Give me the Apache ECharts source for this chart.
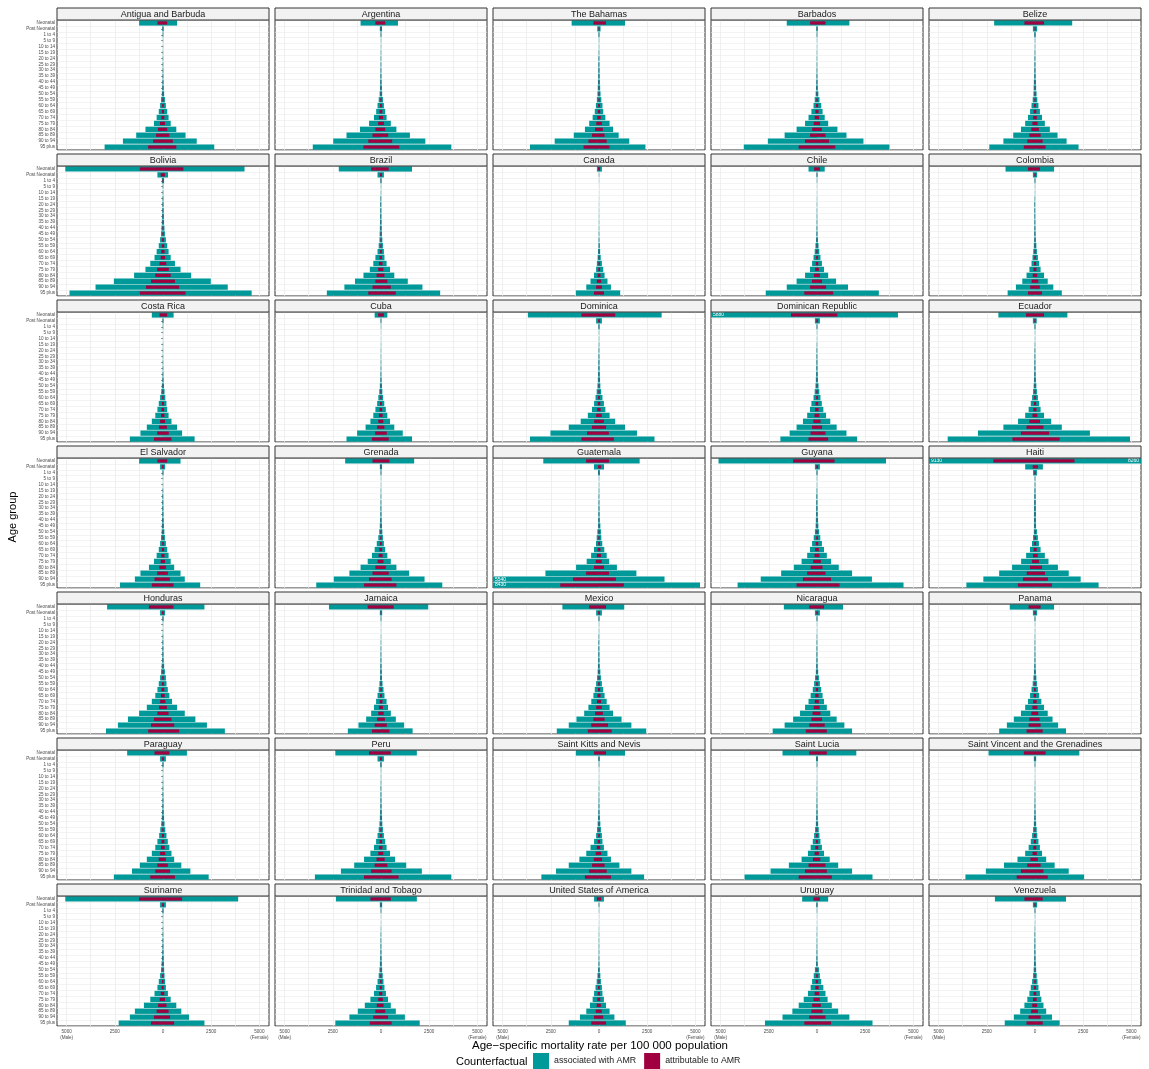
<!DOCTYPE html>
<html><head><meta charset="utf-8">
<script src="https://cdn.jsdelivr.net/npm/echarts@6/dist/echarts.min.js"></script>
<style>html,body{margin:0;padding:0;background:#fff}#c{width:1149px;height:1069px}</style>
</head><body><div id="c"></div>
<script>
const ageGroups = ["Neonatal","Post Neonatal","1 to 4","5 to 9","10 to 14","15 to 19","20 to 24","25 to 29","30 to 34","35 to 39","40 to 44","45 to 49","50 to 54","55 to 59","60 to 64","65 to 69","70 to 74","75 to 79","80 to 84","85 to 89","90 to 94","95 plus"];
const countries = ["Antigua and Barbuda","Argentina","The Bahamas","Barbados","Belize","Bolivia","Brazil","Canada","Chile","Colombia","Costa Rica","Cuba","Dominica","Dominican Republic","Ecuador","El Salvador","Grenada","Guatemala","Guyana","Haiti","Honduras","Jamaica","Mexico","Nicaragua","Panama","Paraguay","Peru","Saint Kitts and Nevis","Saint Lucia","Saint Vincent and the Grenadines","Suriname","Trinidad and Tobago","United States of America","Uruguay","Venezuela"];
const xTickValues = [-5000,-2500,0,2500,5000];
const xGridValues = [-5000,-3750,-2500,-1250,0,1250,2500,3750,5000];

const maleAssociated = [
[1240,40,20,8,8,12,15,18,22,28,35,45,60,100,150,220,330,470,910,1390,2080,3030],
[1060,60,25,10,10,15,20,22,28,35,45,55,70,120,180,250,365,620,1090,1790,2480,3540],
[1420,90,30,10,10,18,30,35,40,45,55,65,80,110,160,220,330,510,730,1310,2300,3580],
[1570,40,20,8,8,12,15,18,22,30,40,50,70,120,180,290,440,620,1060,1680,2550,3800],
[2120,110,40,12,12,20,28,32,38,45,60,70,80,120,180,255,365,510,730,1130,1640,2370],
[5070,290,60,15,15,25,35,40,50,60,80,100,150,220,330,440,660,910,1500,2550,3500,4850],
[2190,180,35,10,12,30,40,40,45,50,60,70,80,120,180,290,400,580,910,1350,1900,2810],
[110,10,5,2,2,4,6,7,8,10,12,16,22,30,50,70,110,150,260,440,660,1200],
[440,30,12,5,5,8,12,14,16,20,25,35,50,80,120,180,255,365,620,1060,1570,2660],
[1530,110,25,8,8,20,35,35,35,35,38,42,45,60,90,130,180,290,440,660,990,1420],
[580,30,12,5,5,10,14,15,17,20,28,38,60,90,150,220,290,400,580,840,1170,1720],
[330,25,10,5,5,8,12,14,16,20,28,38,60,90,140,200,290,400,550,800,1240,1790],
[3690,150,35,10,10,15,22,28,34,40,50,60,80,120,180,255,365,580,950,1570,2520,3580],
[5880,110,25,8,8,15,25,28,32,38,48,60,80,120,180,290,365,510,730,1060,1420,1900],
[1900,110,30,8,8,15,25,28,32,38,45,55,70,100,150,220,330,510,880,1640,2960,4530],
[1240,150,30,8,10,22,35,38,40,42,50,60,70,100,150,220,330,470,730,1170,1460,2230],
[1860,60,25,8,8,14,20,24,30,36,48,62,90,140,220,330,470,690,1060,1640,2450,3360],
[2890,260,50,10,10,15,22,26,30,36,44,50,85,120,155,260,410,640,1190,2780,5540,8430],
[5110,110,30,10,10,20,35,40,45,50,60,70,110,170,255,365,510,800,1200,1860,2920,4120],
[9130,510,100,20,20,30,40,45,50,55,55,55,60,100,155,260,460,720,1190,1860,2680,3560],
[2900,150,35,10,10,20,30,35,40,45,70,100,150,220,290,400,580,840,1240,1820,2340,2960],
[2700,60,20,6,6,10,16,20,25,30,38,45,50,80,120,180,255,365,510,770,1170,1720],
[1900,150,30,8,10,20,30,35,40,45,55,70,100,150,220,290,400,550,770,1170,1570,2190],
[1720,110,28,8,8,15,22,26,30,35,45,60,100,150,220,330,440,620,880,1240,1680,2300],
[1310,110,25,8,8,14,20,22,26,30,40,55,80,120,180,255,365,510,730,1100,1460,1860],
[1860,150,35,10,10,16,24,28,32,38,48,62,90,140,200,290,400,580,840,1200,1610,2550],
[2370,180,40,10,10,16,24,28,32,38,48,60,80,120,180,255,365,550,880,1390,2080,3430],
[1200,40,15,6,6,10,15,18,22,28,38,50,70,100,150,255,440,660,1020,1570,2230,2990],
[1790,50,20,6,6,10,15,18,22,28,36,45,60,100,150,220,330,470,800,1460,2410,3760],
[2410,60,20,6,6,10,15,18,22,28,36,45,60,100,150,220,330,510,910,1610,2550,3610],
[5070,150,35,10,10,16,24,28,34,40,55,75,100,150,220,290,440,660,990,1460,1720,2300],
[2340,60,20,6,6,12,20,24,28,34,44,58,80,120,180,255,365,550,840,1200,1640,2370],
[255,20,8,4,4,8,12,14,16,18,22,30,50,80,120,180,255,330,470,660,990,1570],
[770,40,12,5,5,10,14,16,20,26,36,50,110,170,255,330,470,690,950,1280,1790,2700],
[2080,110,25,8,8,16,26,30,34,38,45,55,70,100,150,220,290,400,550,770,1100,1570]
];
const femaleAssociated = [
[730,35,18,6,6,8,10,12,15,20,28,38,60,100,150,220,290,400,690,1170,1750,2660],
[880,55,22,8,8,10,12,14,18,24,32,45,60,100,150,220,290,510,800,1500,2300,3650],
[1350,80,25,8,8,12,18,22,28,35,45,60,80,120,180,220,330,550,730,1020,1570,2410],
[1680,40,18,6,6,8,10,12,16,22,30,42,70,130,220,290,400,580,1060,1530,2410,3760],
[1930,110,35,10,10,14,18,22,28,35,50,60,80,120,180,255,365,510,770,1170,1640,2260],
[4230,260,55,12,12,20,28,35,45,55,75,100,150,220,290,400,620,910,1460,2480,3360,4600],
[1610,150,30,8,8,12,15,18,22,28,38,50,70,100,150,180,290,470,690,1390,2150,3070],
[150,9,4,2,2,3,4,5,6,8,10,14,20,40,60,90,150,220,290,440,620,1100],
[400,28,10,4,4,6,8,9,11,14,18,26,50,80,120,180,255,365,580,990,1610,3210],
[990,110,22,6,6,8,10,12,14,18,24,32,45,70,100,150,220,290,470,660,950,1390],
[550,28,10,4,4,6,7,8,10,14,20,30,50,80,120,180,220,290,440,730,990,1640],
[330,22,8,4,4,6,8,9,11,14,20,30,50,70,110,170,250,330,470,690,1130,1610],
[3250,150,30,8,8,12,16,20,26,32,42,55,70,110,180,255,330,550,840,1350,1970,2880],
[4200,150,22,6,6,10,14,18,22,28,38,50,80,120,180,250,330,470,690,1020,1530,2080],
[1680,90,25,6,6,10,14,18,22,28,36,48,70,100,150,220,290,470,840,1390,2850,4930],
[910,110,25,6,6,10,14,18,22,28,36,48,70,100,150,220,290,400,580,910,1130,1930],
[1720,55,22,6,6,9,12,15,20,26,36,50,70,100,150,220,330,510,800,1460,2260,3180],
[2110,260,45,8,8,12,16,20,25,32,42,70,100,120,170,275,400,530,930,1940,3400,5240],
[3580,150,28,8,8,14,20,25,32,40,55,70,110,170,255,365,510,730,1130,1820,2850,4490],
[8260,410,100,18,18,25,35,40,45,50,50,55,100,150,205,290,510,700,1190,1750,2370,3300],
[2150,110,30,8,8,12,18,22,28,35,60,100,150,180,250,330,470,730,1130,1680,2280,3210],
[2450,60,18,5,5,8,10,13,17,22,30,40,50,80,130,180,290,365,510,770,1200,1640],
[1310,150,25,6,6,10,14,18,22,28,38,70,100,150,220,290,400,550,730,1170,1680,2450],
[1350,150,25,6,6,10,14,18,22,28,38,60,100,150,220,290,365,510,690,1020,1420,1820],
[990,110,22,6,6,9,12,15,19,24,32,45,70,100,150,220,330,470,660,910,1200,1610],
[1240,150,30,8,8,12,16,20,25,30,40,55,80,120,180,250,330,440,580,950,1420,2370],
[1860,150,35,8,8,12,16,20,25,30,40,55,70,100,150,220,290,470,730,1310,2120,3650],
[1350,40,15,5,5,8,10,12,16,22,30,45,70,100,150,180,255,440,620,1060,1680,2340],
[2040,50,18,5,5,8,10,12,16,22,30,40,60,90,130,180,255,365,660,1100,1820,2880],
[2300,60,18,5,5,8,10,12,16,22,30,40,60,90,120,180,255,365,580,1020,1750,2550],
[3900,150,30,8,8,12,16,20,25,30,40,50,60,80,110,150,255,400,690,950,1350,2150],
[1860,60,18,5,5,8,11,14,18,24,32,44,60,90,130,180,255,365,510,770,1240,2010],
[255,18,7,3,3,5,7,8,10,12,16,24,40,70,100,150,180,255,365,550,800,1390],
[580,35,10,4,4,6,8,10,13,18,26,40,100,150,220,330,440,550,770,1100,1680,2880],
[1610,110,22,6,6,9,12,15,19,24,32,44,60,90,130,180,255,330,440,580,880,1280]
];
const maleAttributable = [
[290,12,6,2,2,3,4,5,6,8,10,14,18,30,45,60,86,155,260,360,510,770],
[290,20,8,3,3,4,5,6,7,9,12,15,20,35,50,70,110,150,290,440,660,910],
[290,25,8,3,3,5,8,9,10,12,15,18,22,30,45,60,90,140,200,360,550,800],
[360,12,6,2,2,3,4,5,6,8,11,14,20,33,50,80,120,170,250,360,620,950],
[550,30,10,3,3,5,7,8,10,12,16,19,22,32,48,68,95,135,190,290,400,580],
[1200,120,25,5,5,8,10,12,15,18,25,30,45,60,90,120,180,300,400,620,880,1200],
[510,60,12,3,3,8,10,10,12,14,16,19,22,32,48,75,105,150,230,290,440,660],
[50,4,2,1,1,1,2,2,2,3,3,4,6,8,13,18,28,40,70,110,150,260],
[150,10,4,2,2,2,3,4,4,5,7,9,13,20,30,45,65,95,160,260,360,660],
[365,35,8,2,2,5,9,9,9,9,10,11,12,16,24,34,48,75,115,170,250,365],
[180,10,4,2,2,3,4,4,5,5,7,10,15,23,38,55,75,100,150,200,300,470],
[150,8,3,2,2,2,3,4,4,5,7,10,15,23,35,50,75,100,140,200,300,470],
[910,45,10,3,3,4,6,7,9,10,13,15,20,30,45,65,95,150,250,365,620,910],
[1350,35,8,2,2,4,7,8,9,10,12,15,20,30,45,75,95,130,190,260,330,440],
[470,35,9,2,2,4,7,8,9,10,12,14,18,26,38,57,85,130,290,440,730,1170],
[290,50,10,2,3,6,9,10,10,11,13,15,18,26,40,57,85,120,190,300,440,580],
[440,18,8,2,2,4,5,6,8,9,12,16,23,36,57,85,120,175,290,440,620,880],
[670,50,15,3,3,4,6,7,8,10,12,14,22,32,42,70,110,165,260,670,1340,2010],
[1240,35,9,3,3,5,9,10,12,13,15,18,28,44,66,95,130,200,330,510,730,1060],
[2160,120,30,5,5,8,10,12,13,14,14,14,16,26,40,70,100,150,260,430,620,890],
[730,50,12,3,3,5,8,9,10,12,18,26,40,58,76,105,150,200,290,470,620,770],
[690,18,6,2,2,3,4,5,7,8,10,12,14,22,32,48,68,100,140,200,330,470],
[510,45,9,2,3,5,8,9,10,12,15,19,27,40,58,78,105,145,200,290,400,580],
[400,35,8,2,2,4,6,7,8,9,12,16,26,40,58,88,115,165,230,290,400,580],
[330,35,8,2,2,4,5,6,7,8,10,14,21,32,48,68,95,135,190,290,330,440],
[440,45,10,3,3,4,6,7,8,10,12,16,24,37,53,76,105,150,220,290,400,660],
[620,55,12,3,3,4,6,7,8,10,12,15,21,31,47,66,95,145,230,330,510,880],
[255,12,5,2,2,3,4,5,6,7,10,13,18,26,40,66,115,170,270,360,510,730],
[400,15,6,2,2,3,4,5,6,7,9,12,16,26,40,57,85,120,210,440,620,950],
[580,18,6,2,2,3,4,5,6,7,9,12,16,26,40,57,85,130,240,400,730,950],
[1240,45,10,3,3,4,6,7,9,10,14,19,26,39,57,75,115,170,255,330,470,620],
[550,18,6,2,2,3,5,6,7,9,11,15,21,31,47,66,95,145,220,290,400,580],
[110,7,3,1,1,2,3,4,4,5,6,8,13,21,31,47,66,86,120,170,260,400],
[180,12,4,2,2,3,4,4,5,7,9,13,29,44,66,86,120,180,250,290,400,660],
[550,35,8,2,2,4,7,8,9,10,12,14,18,26,40,57,75,105,145,200,330,440]
];
const femaleAttributable = [
[220,10,5,2,2,2,3,3,4,6,8,11,15,28,35,50,70,100,220,330,510,690],
[220,18,7,2,2,3,3,4,5,7,9,12,18,30,45,65,110,150,220,370,580,950],
[360,22,7,2,2,3,5,6,8,10,12,16,22,32,48,60,90,150,200,290,400,550],
[440,12,5,2,2,2,3,3,4,6,8,12,20,35,60,80,110,160,250,440,620,950],
[470,30,9,3,3,4,5,6,7,9,13,16,22,32,48,68,95,135,200,290,400,550],
[1060,100,22,4,4,6,8,10,13,16,22,30,45,60,80,110,170,300,400,620,840,1170],
[400,50,10,2,2,3,4,5,6,8,10,14,19,27,40,48,78,125,180,330,510,770],
[50,4,2,1,1,1,1,1,2,2,3,4,5,10,15,23,38,55,75,110,150,260],
[150,9,3,1,1,2,2,2,3,4,5,7,13,20,30,45,65,95,150,260,470,840],
[255,35,7,2,2,2,3,3,4,5,6,8,12,18,26,40,58,75,120,170,250,365],
[220,9,3,1,1,2,2,2,3,4,5,8,13,20,30,45,55,75,110,200,300,440],
[150,7,3,1,1,2,2,2,3,4,5,8,13,18,28,43,63,85,120,175,300,400],
[840,45,9,2,2,3,4,5,7,8,11,14,18,28,45,65,85,140,250,365,510,770],
[1060,45,7,2,2,3,4,5,6,7,10,13,20,30,45,65,85,120,180,260,440,580],
[470,30,8,2,2,3,4,5,6,7,9,12,18,26,38,57,75,120,260,440,730,1280],
[220,38,8,2,2,3,4,5,6,7,9,12,18,26,40,57,75,105,150,250,360,550],
[440,16,7,2,2,2,3,4,5,7,9,13,18,26,39,57,85,130,250,400,550,800],
[515,100,14,2,2,3,4,5,7,9,11,18,26,32,45,72,105,140,260,515,876,1290],
[910,45,8,2,2,4,5,7,8,10,14,18,28,44,66,95,130,200,290,440,730,1170],
[2050,150,30,5,5,7,9,10,12,13,13,14,26,38,55,90,140,200,360,515,670,875],
[550,38,10,2,2,3,5,6,7,9,16,26,40,48,66,88,125,200,290,440,580,840],
[660,18,5,1,1,2,3,3,4,6,8,11,14,22,35,48,78,100,140,200,300,440],
[365,45,8,2,2,3,4,5,6,7,10,19,27,40,58,78,105,145,200,290,470,660],
[365,45,8,2,2,3,4,5,6,7,10,16,26,40,58,78,95,135,180,260,400,510],
[290,35,7,2,2,2,3,4,5,6,8,12,18,26,40,58,85,125,170,240,290,400],
[330,45,9,2,2,3,4,5,6,8,10,14,21,32,48,66,88,115,150,250,365,620],
[510,45,10,2,2,3,4,5,6,8,10,14,18,26,39,57,75,120,190,330,550,910],
[365,12,5,1,1,2,3,3,4,6,8,12,18,26,40,47,66,115,160,290,400,620],
[510,15,5,1,1,2,3,3,4,6,8,10,16,23,34,47,66,95,170,440,510,770],
[550,18,5,1,1,2,3,3,4,6,8,10,16,23,31,47,66,95,150,290,440,660],
[990,45,9,2,2,3,4,5,6,8,10,13,16,21,29,39,66,105,180,290,365,580],
[510,18,5,1,1,2,3,4,5,6,8,11,16,23,34,47,66,95,135,220,365,550],
[110,6,2,1,1,1,2,2,3,3,4,6,10,18,26,39,47,66,95,145,220,365],
[150,11,3,1,1,2,2,3,3,5,7,10,26,39,57,86,115,145,200,290,440,730],
[400,35,7,2,2,2,3,4,5,6,8,11,16,23,34,47,66,86,115,150,290,400]
];

const XLIM = 5500;
const TEAL = '#009999';
const CRIMSON = '#A0003F';
const FONT = '"Liberation Sans", Arial, Helvetica, sans-serif';

const chart = echarts.init(document.getElementById('c'), null, {renderer: 'canvas'});
const grids = [], xAxes = [], yAxes = [], series = [], graphics = [];

countries.forEach((name, i) => {
  const col = i % 5, row = Math.floor(i / 5);
  const left = 57 + col * 218, top = 20 + row * 146, w = 212, h = 130;
  grids.push({left: left, top: top, width: w, height: h, show: true, borderColor: '#333333', borderWidth: 1, backgroundColor: '#ffffff'});
  xAxes.push({
    gridIndex: i, type: 'value', min: -XLIM, max: XLIM,
    axisLine: {show: false},
    axisTick: {show: false, customValues: xGridValues},
    splitLine: {show: true, lineStyle: {color: '#EBEBEB', width: 0.8}},
    axisLabel: {
      show: row === 6, customValues: xTickValues, fontSize: 4.6, lineHeight: 6, color: '#4D4D4D', margin: 3, fontFamily: FONT,
      formatter: function (v) {
        const a = Math.abs(v);
        if (v === -5000) return a + '\n(Male)';
        if (v === 5000) return a + '\n(Female)';
        return String(a);
      }
    }
  });
  yAxes.push({
    gridIndex: i, type: 'category', data: ageGroups, inverse: true,
    axisLine: {show: false},
    axisTick: {show: col === 0, length: 2, alignWithLabel: true, lineStyle: {color: '#333333', width: 0.5}},
    axisLabel: {show: col === 0, interval: 0, fontSize: 4.6, color: '#4D4D4D', margin: 2, fontFamily: FONT},
    splitLine: {show: true, lineStyle: {color: '#EBEBEB', width: 0.6}}
  });
  yAxes.push({
    gridIndex: i, type: 'category', data: ageGroups, inverse: true, show: false
  });
  const ma = maleAssociated[i], fa = femaleAssociated[i];
  series.push({
    type: 'bar', name: 'associated with AMR', xAxisIndex: i, yAxisIndex: 2 * i,
    data: ma.map(v => -Math.min(v, XLIM)), barWidth: '90%', barGap: '-100%',
    itemStyle: {color: TEAL}, silent: true,
    label: {show: true, position: 'insideLeft', distance: 2, fontSize: 5, color: '#ffffff', fontFamily: FONT,
      formatter: p => ma[p.dataIndex] > XLIM ? String(ma[p.dataIndex]) : ''}
  });
  series.push({
    type: 'bar', name: 'associated with AMR', xAxisIndex: i, yAxisIndex: 2 * i,
    data: fa.map(v => Math.min(v, XLIM)), barWidth: '90%', barGap: '-100%',
    itemStyle: {color: TEAL}, silent: true,
    label: {show: true, position: 'insideRight', distance: 2, fontSize: 5, color: '#ffffff', fontFamily: FONT,
      formatter: p => fa[p.dataIndex] > XLIM ? String(fa[p.dataIndex]) : ''}
  });
  series.push({
    type: 'bar', name: 'attributable to AMR', xAxisIndex: i, yAxisIndex: 2 * i + 1,
    data: maleAttributable[i].map(v => -Math.min(v, XLIM)), barWidth: '55%', barGap: '-100%',
    itemStyle: {color: CRIMSON}, silent: true
  });
  series.push({
    type: 'bar', name: 'attributable to AMR', xAxisIndex: i, yAxisIndex: 2 * i + 1,
    data: femaleAttributable[i].map(v => Math.min(v, XLIM)), barWidth: '55%', barGap: '-100%',
    itemStyle: {color: CRIMSON}, silent: true
  });
  graphics.push({type: 'rect', shape: {x: left, y: top - 12, width: w, height: 12},
    style: {fill: '#F2F2F2', stroke: '#333333', lineWidth: 1}, z: 10});
  graphics.push({type: 'text', x: left + w / 2, y: top - 5.8,
    style: {text: name, fontSize: 9, fill: '#1A1A1A', align: 'center', verticalAlign: 'middle', fontFamily: FONT}, z: 11});
});

graphics.push({type: 'text', x: 600, y: 1046,
  style: {text: 'Age\u2212specific mortality rate per 100 000 population', fontSize: 11.5, fill: '#000', align: 'center', verticalAlign: 'middle', fontFamily: FONT}});
graphics.push({type: 'text', x: 13, y: 517, rotation: Math.PI / 2,
  style: {text: 'Age group', fontSize: 11, fill: '#000', align: 'center', verticalAlign: 'middle', fontFamily: FONT}});
graphics.push({type: 'text', x: 456, y: 1062,
  style: {text: 'Counterfactual', fontSize: 11, fill: '#000', align: 'left', verticalAlign: 'middle', fontFamily: FONT}});

chart.setOption({
  animation: false,
  backgroundColor: '#ffffff',
  textStyle: {fontFamily: FONT},
  grid: grids, xAxis: xAxes, yAxis: yAxes, series: series,
  legend: {
    data: ['associated with AMR', 'attributable to AMR'], selectedMode: false,
    left: 533, top: 1053, padding: 0, icon: 'rect', itemWidth: 16, itemHeight: 16, itemGap: 8,
    textStyle: {fontSize: 8.8, color: '#1A1A1A', fontFamily: FONT}
  },
  graphic: graphics
});
</script></body></html>
